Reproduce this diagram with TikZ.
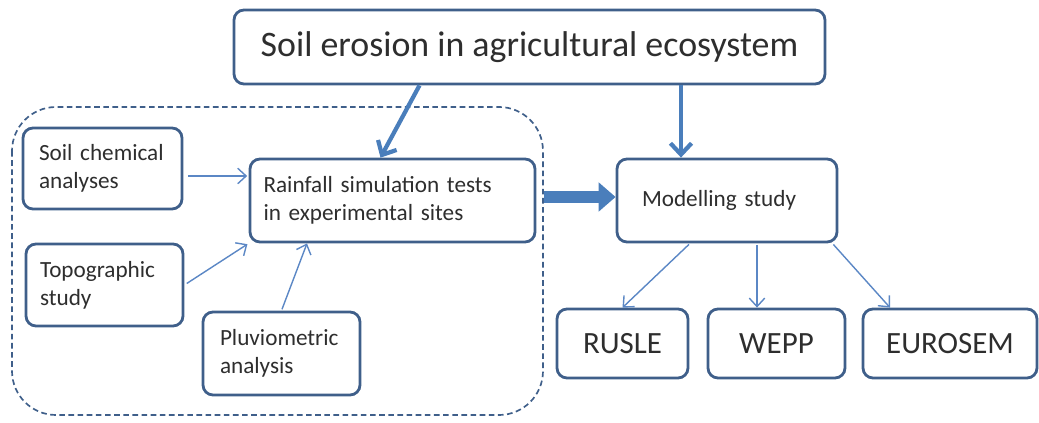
\documentclass[tikz,border=0pt]{standalone}
\usepackage{fontspec}
\setmainfont{Carlito}
\usetikzlibrary{arrows.meta}
\definecolor{boxblue}{HTML}{3F5F8A}
\definecolor{arrowblue}{HTML}{4A7EBB}
\definecolor{thinblue}{HTML}{5B87C5}
\definecolor{txtgrey}{HTML}{2E2E2E}
\tikzset{
  box/.style={draw=boxblue, line width=2pt, rounded corners=0.25cm, fill=white, text=txtgrey, font=\fontsize{16.5}{20}\selectfont, inner sep=0pt},
  model/.style={box, minimum height=1.725cm, font=\fontsize{22}{26}\selectfont},
  thin arrow/.style={draw=thinblue, line width=1pt, -{Straight Barb[length=6pt,width=11pt]}},
  thick arrow/.style={draw=arrowblue, line width=3pt, -{Straight Barb[length=8pt,width=15pt]}},
}
\begin{document}
\begin{tikzpicture}
\useasboundingbox (0,0) rectangle (25.975,-10.575);
% region of the field work
\draw[boxblue, line width=1.2pt, dash pattern=on 4pt off 2.5pt, rounded corners=1.1cm] (0.3,-2.675) rectangle (13.575,-10.375);
\node[box, minimum width=14.775cm, minimum height=1.85cm, font=\fontsize{25.5}{30}\selectfont] (erosion) at (13.2375,-1.175) {Soil erosion in agricultural ecosystem};
\node[box, minimum width=3.975cm, minimum height=2.025cm, text width=3.175cm, align=left] (chemical) at (2.5625,-4.2125) {Soil chemical\\analyses};
\node[box, minimum width=7.125cm, minimum height=2.075cm, text width=6.45cm, align=left] (rainfall) at (9.8125,-5.0125) {Rainfall simulation tests\\in experimental sites};
\node[box, minimum width=3.925cm, minimum height=2.05cm, text width=3.225cm, align=left] (topographic) at (2.6125,-7.125) {Topographic\\study};
\node[box, minimum width=3.925cm, minimum height=2.075cm, text width=3.075cm, align=left] (pluviometric) at (7.0375,-8.8375) {Pluviometric\\analysis};
\node[box, minimum width=5.5cm, minimum height=2.075cm, text width=4.25cm, align=left] (modelling) at (18.175,-5.0125) {Modelling study};
\node[model, minimum width=3.275cm] (rusle) at (15.5625,-8.5875) {RUSLE};
\node[model, minimum width=3.425cm] (wepp) at (19.4125,-8.5875) {WEPP};
\node[model, minimum width=4.35cm] (eurosem) at (23.75,-8.5875) {EUROSEM};
% connectors
\draw[thick arrow] ([xshift=-2.75cm]erosion.south) -- ([xshift=-0.3cm]rainfall.north);
\draw[thick arrow] ([xshift=3.7875cm]erosion.south) -- ([xshift=3.7875cm]erosion.south |- modelling.north);
\draw[draw=arrowblue, line width=8.5pt, shorten <=0.2cm, -{Triangle[length=12pt,width=20pt]}] ([yshift=0.0875cm]rainfall.east) -- ([yshift=0.0875cm]rainfall.east -| modelling.west);
\draw[thin arrow, shorten <=0.125cm, shorten >=1pt] ([yshift=-0.1875cm]chemical.east) -- ([yshift=-0.1875cm]chemical.east -| rainfall.west);
\draw[thin arrow, shorten <=2pt, shorten >=1pt] (topographic.east) -- (rainfall.south west);
\draw[thin arrow, shorten <=1pt] (pluviometric.north) -- ([xshift=-2.1375cm]rainfall.south);
\draw[thin arrow, shorten <=1pt] ([xshift=-0.925cm]modelling.south) -- (rusle.north);
\draw[thin arrow, shorten <=1pt] ([xshift=0.75cm]modelling.south) -- ([xshift=0.75cm]modelling.south |- wepp.north);
\draw[thin arrow, shorten <=1pt] ([xshift=-0.15cm]modelling.south east) -- ([xshift=-1.5cm]eurosem.north);
\end{tikzpicture}
\end{document}
